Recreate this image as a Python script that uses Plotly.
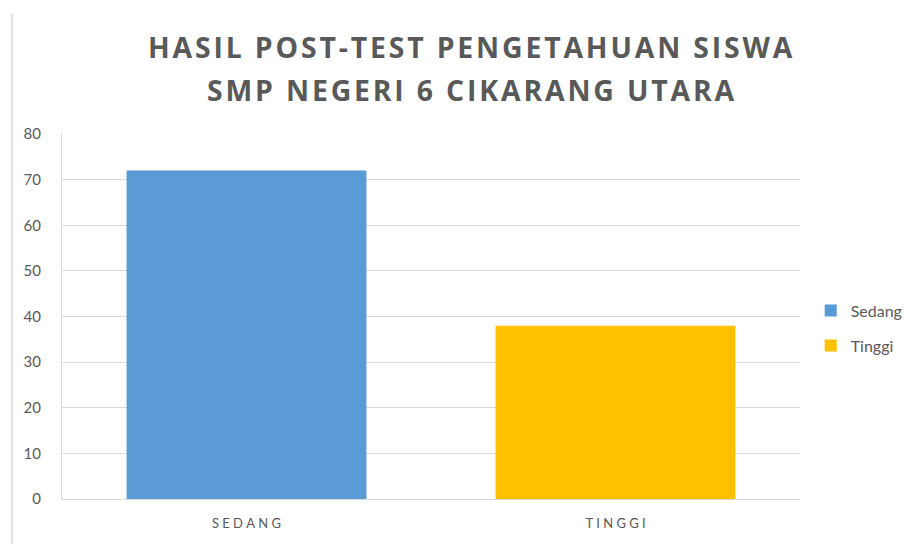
import plotly.graph_objects as go

categories = ["Sedang", "Tinggi"]
values = [72, 38]
colors = ["#5B9BD5", "#FFC000"]
title_lines = ["HASIL POST-TEST PENGETAHUAN SISWA", "SMP NEGERI 6 CIKARANG UTARA"]
y_ticks = [0, 10, 20, 30, 40, 50, 60, 70, 80]


def spaced(s, sep):
    return sep.join(list(s))


fig = go.Figure()
for cat, val, col in zip(categories, values, colors):
    fig.add_trace(go.Bar(
        x=[cat.upper()], y=[val], name=cat, legendgroup=cat,
        marker=dict(color=col, line=dict(width=0)),
        width=0.65,
    ))

grey = "#595959"
fig.update_layout(
    width=909, height=536,
    paper_bgcolor="white", plot_bgcolor="white",
    margin=dict(l=54, r=117, t=126, b=45, autoexpand=False),
    barmode="overlay",
    font=dict(family="Lato", color=grey),
    legend=dict(
        x=1.0145, y=0.468, xanchor="left", yanchor="middle",
        font=dict(size=16, color=grey, family="Lato"),
        itemwidth=30, tracegroupgap=11,
    ),
    showlegend=True,
)
for line, ypos in zip(title_lines, [1.2397, 1.1205]):
    fig.add_annotation(
        text="<b>" + spaced(line, "\u200a") + "</b>",
        xref="paper", yref="paper", x=0.554, y=ypos,
        xanchor="center", yanchor="middle", showarrow=False,
        font=dict(family="Open Sans", size=28.4, color=grey),
    )
fig.update_xaxes(
    tickvals=[c.upper() for c in categories],
    ticktext=[spaced(c.upper(), "\u2009\u200a\u200a") for c in categories],
    tickfont=dict(size=13, color=grey, family="Lato"),
    showgrid=False, showline=True, linecolor="#d9d9d9", linewidth=1,
    ticks="", ticklabelstandoff=12,
)
fig.update_yaxes(
    range=[0, 80], tickvals=y_ticks,
    tickfont=dict(size=15, color=grey, family="Lato"),
    showgrid=True, gridcolor="#d9d9d9", gridwidth=1,
    showline=True, linecolor="#d9d9d9", linewidth=1,
    zeroline=False, ticks="", ticklabelstandoff=17,
)
fig.add_shape(type="line", xref="paper", yref="paper",
              x0=-0.0678, x1=-0.0678, y0=-0.123, y1=1.329,
              line=dict(color="#d9d9d9", width=1.5))

fig.write_html("out.html")
